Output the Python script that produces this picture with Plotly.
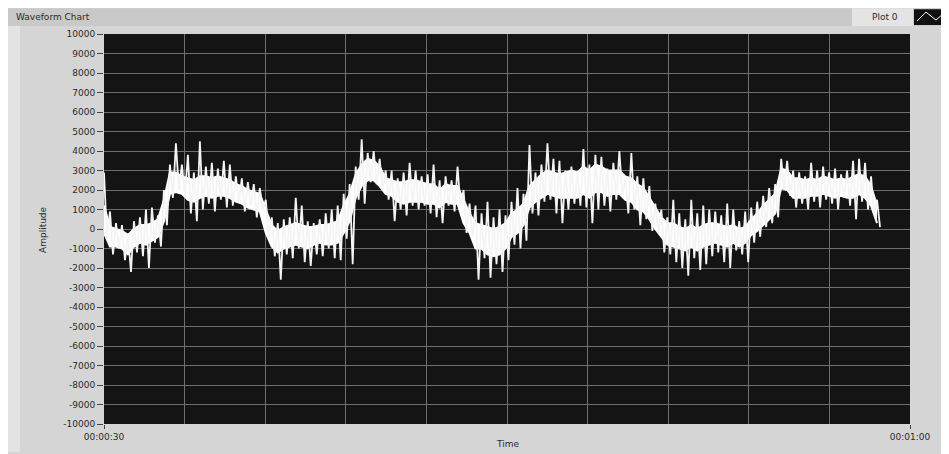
import plotly.graph_objects as go

# ---- data (seconds, amplitude) ----
t_start = 30.0          # seconds (00:00:30)
t_end = 60.0            # seconds (00:01:00)
col_step = 6 / 26.9     # seconds per read column (~6 px)

# per-column upper / lower extremes (spikes) of the noisy waveform
amp_hi = [2900, 900, 300, 200, -300, 400, 600, 1000, 1100, 700, 2000, 3300, 4400, 3300,
          3800, 2900, 4500, 3200, 3400, 3100, 3500, 3300, 2700, 2600, 2400, 2300, 2100,
          1500, 600, 300, 500, 600, 1600, 1200, 400, 300, 500, 800, 1000, 1200, 1800,
          2300, 3200, 4600, 3900, 4000, 3600, 3000, 3000, 2600, 2900, 3400,
          3000, 2700, 2800, 3300, 2500, 2700, 2500, 3200, 2000, 1300, 1200, 800, 1400,
          600, 1000, 700, 1400, 2100, 1800, 4300, 2900, 3300, 4400, 3600, 3500, 3000,
          3200, 2900, 4100, 3300, 3800, 3700, 3100, 3400, 4000, 2600, 3900, 2700, 2600,
          2200, 1300, 1000, 600, 1500, 800, 500, 1500, 800, 1200, 1000, 900, 700,
          1300, 1000, 400, 900, 1100, 1400, 1700, 2100, 2300, 3600, 3500, 3000, 2900,
          2700, 3400, 3000, 3200, 2900, 3100, 2800, 3000, 3500, 3600, 3400, 2700, 1500]
amp_lo = [-500, -1300, -1000, -1600, -2200, -1200, -1400, -2000, -700, -900, 200, 1600, 2000, 1700,
          800, 400, 1000, 1300, 900, 1500, 1100, 1200, 1400, 900, 1200, 600, 1000,
          -500, -1400, -2600, -1300, -1500, -1000, -1700, -1900, -1300, -1400, -1000, -1500, -1600, -500,
          -1800, 1500, 1300, 2400, 2300, 2000, 1500, 400, 1000, 700, 1200,
          1000, 1200, 800, 600, 300, 1200, 900, 1100, -200, -400, -2600, -1500, -2500,
          -1800, -2200, -1600, -800, -1000, -600, 800, 700, 1400, 1500, 800, 300, 1000,
          1300, 1200, 1100, 300, 1000, 1200, 900, 1500, 1700, 800, 1000, 200, 500,
          -100, -200, -1200, -1300, -1700, -2000, -2400, -1500, -2100, -1800, -1400, -1200, -1700,
          -2000, -1100, -1300, -1700, -700, -400, 100, 300, 600, 2000, 1700, 1100, 1300,
          1000, 1400, 1100, 1500, 1300, 1000, 1600, 1200, 500, 1400, 1000, 800, 100]

# per-column solid core band of the waveform
core_hi = [1200, 100, 0, -100, -300, 0, 200, 200, 300, 500, 1500, 2900, 2900, 2700,
           2600, 2500, 2700, 2700, 2600, 2700, 2600, 2500, 2300, 2200, 2000, 1900, 1800,
           1000, 200, -100, 100, 200, 300, 200, 100, 100, 200, 200, 300, 400, 1200,
           1800, 2800, 3300, 3600, 3500, 3200, 2600, 2500, 2400, 2400, 2500,
           2500, 2400, 2300, 2300, 2000, 2300, 2200, 2200, 1500, 800, 300, 200, 100,
           0, 100, 300, 800, 1000, 1300, 2200, 2500, 2800, 3000, 2900, 2800, 2900,
           3000, 2900, 3200, 3000, 3300, 3200, 3000, 3000, 3000, 2700, 2600, 2300, 2100,
           1600, 1100, 600, 300, 300, 100, 0, 200, 0, 200, 300, 300, 200,
           100, 200, 0, 100, 500, 800, 1200, 1500, 1800, 3100, 3000, 2600, 2600,
           2500, 2600, 2500, 2700, 2600, 2500, 2600, 2500, 2700, 2800, 2700, 2200, 1200]
core_lo = [-200, -900, -900, -1000, -1300, -900, -700, -800, -600, -400, 400, 1800, 1900, 1800,
           1500, 1400, 1600, 1700, 1600, 1700, 1700, 1600, 1400, 1300, 1100, 1000, 900,
           -200, -900, -1200, -1000, -900, -800, -900, -1000, -800, -700, -800, -800, -700, -200,
           400, 1600, 2200, 2500, 2500, 2200, 1800, 1700, 1400, 1300, 1400,
           1400, 1400, 1300, 1300, 1100, 1400, 1300, 1300, 300, -200, -1000, -1000, -1300,
           -1400, -1300, -1000, -400, -200, 200, 1100, 1400, 1600, 1800, 1700, 1600, 1600,
           1600, 1600, 1800, 1600, 1900, 1900, 1700, 1800, 1800, 1500, 1400, 1000, 900,
           500, 0, -400, -800, -900, -1000, -1100, -900, -1100, -900, -800, -700, -800,
           -900, -700, -900, -700, -300, -100, 200, 500, 800, 2100, 2000, 1600, 1600,
           1600, 1700, 1700, 1800, 1700, 1600, 1700, 1600, 1600, 1800, 1600, 1200, 300]

y_ticks = list(range(-10000, 10001, 1000))
y_tick_text = [str(v) for v in y_ticks]
x_tick_vals = [30, 60]
x_tick_text = ["00:00:30", "00:01:00"]
grid_x = list(range(33, 60, 3))

col_t = [t_start + i * col_step for i in range(len(core_hi))]

spike_t, spike_a = [], []
for i, (h, l) in enumerate(zip(amp_hi, amp_lo)):
    spike_t += [t_start + i * col_step, t_start + (i + 0.5) * col_step]
    spike_a += [h, l]

# the page body adds an 8 px margin on the top and left
OFF = 8
W, H = 949 - OFF, 454 - OFF
L, R, T, B = 104 - OFF, 910 - OFF, 34 - OFF, 426 - OFF


def px(x):  # reference-pixel x -> paper
    return (x - OFF - L) / (R - L)


def py(y):  # reference-pixel y -> paper
    return (B - (y - OFF)) / (B - T)


fig = go.Figure()
fig.add_trace(go.Scatter(x=col_t, y=core_lo, mode="lines",
                         line=dict(color="white", width=2),
                         showlegend=False, hoverinfo="skip"))
fig.add_trace(go.Scatter(x=col_t, y=core_hi, mode="lines", fill="tonexty",
                         fillcolor="white", line=dict(color="white", width=2),
                         showlegend=False, hoverinfo="skip"))
fig.add_trace(go.Scatter(x=spike_t, y=spike_a, mode="lines",
                         line=dict(color="#f4f4f4", width=1.8),
                         name="Plot 0", showlegend=False, hoverinfo="skip"))

grid_col = "#6e6e6e"
txt = "#2a2a2a"
tick_font = dict(family="DejaVu Sans", size=9, color=txt)

fig.update_layout(
    width=W, height=H,
    margin=dict(l=L, r=W - R, t=T, b=H - B, pad=0),
    paper_bgcolor="#d5d5d5",
    plot_bgcolor="#141414",
    xaxis=dict(range=[t_start, t_end], tickmode="array", tickvals=x_tick_vals,
               ticktext=x_tick_text, showgrid=False, zeroline=False,
               ticks="outside", ticklen=4, tickcolor="#444", tickfont=tick_font,
               showline=False,
               minor=dict(tickmode="array", tickvals=grid_x, showgrid=True,
                          gridcolor=grid_col, gridwidth=1, ticks="")),
    yaxis=dict(range=[-10000, 10000], tickmode="array", tickvals=y_ticks,
               ticktext=y_tick_text,
               showgrid=True, gridcolor=grid_col, gridwidth=1, zeroline=False,
               ticks="outside", ticklen=6, tickcolor="#444", tickfont=tick_font,
               showline=False),
    shapes=[
        # lighter left band
        dict(type="rect", xref="paper", yref="paper", x0=px(8), x1=px(20), y0=py(454), y1=py(26),
             fillcolor="#e3e3e3", line=dict(width=0), layer="below"),
        # title bar
        dict(type="rect", xref="paper", yref="paper", x0=px(8), x1=px(949), y0=py(26), y1=py(8),
             fillcolor="#c9c9c9", line=dict(width=0), layer="below"),
        # legend box
        dict(type="rect", xref="paper", yref="paper", x0=px(852), x1=px(913), y0=py(26), y1=py(8),
             fillcolor="#e4e4e4", line=dict(width=0), layer="below"),
        # legend icon
        dict(type="rect", xref="paper", yref="paper", x0=px(914), x1=px(947), y0=py(25), y1=py(9),
             fillcolor="#111111", line=dict(width=0), layer="above"),
        dict(type="path", xref="paper", yref="paper",
             path="M %f %f L %f %f L %f %f L %f %f" % (px(917), py(21), px(926), py(12),
                                                         px(936), py(20), px(945), py(12)),
             line=dict(color="white", width=1), layer="above"),
    ],
    annotations=[
        dict(text="Waveform Chart", xref="paper", yref="paper", x=px(14), y=py(17),
             xanchor="left", yanchor="middle", showarrow=False,
             font=dict(family="DejaVu Sans", size=9, color=txt)),
        dict(text="Plot 0", xref="paper", yref="paper", x=px(900), y=py(17),
             xanchor="right", yanchor="middle", showarrow=False,
             font=dict(family="DejaVu Sans", size=9, color=txt)),
        dict(text="Amplitude", xref="paper", yref="paper", x=px(43), y=py(230),
             xanchor="center", yanchor="middle", showarrow=False, textangle=-90,
             font=dict(family="DejaVu Sans", size=9, color=txt)),
        dict(text="Time", xref="paper", yref="paper", x=px(507), y=py(446),
             xanchor="center", yanchor="middle", showarrow=False,
             font=dict(family="DejaVu Sans", size=9, color=txt)),
    ],
)

fig.write_html("out.html")
